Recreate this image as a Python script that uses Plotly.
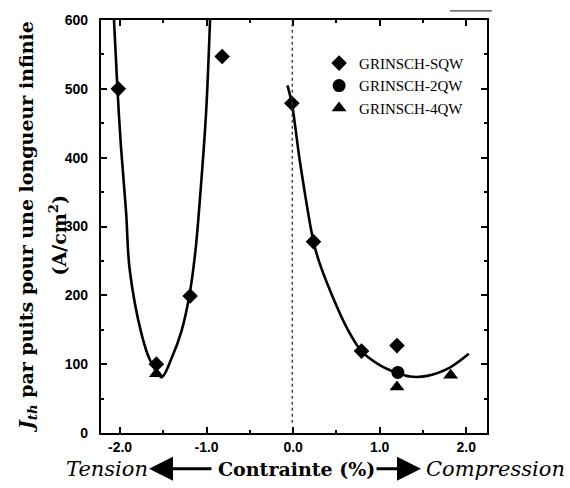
import plotly.graph_objects as go

# ---- data ----
sqw_x = [-2.02, -1.58, -1.19, -0.82, -0.015, 0.235, 0.79, 1.20]
sqw_y = [500, 100, 199, 547, 479, 278, 119, 127]
qw2_x = [1.21]
qw2_y = [88]
qw4_x = [-1.58, 1.20, 1.82]
qw4_y = [86, 67, 84]

fit_tension_x = [-2.07, -2.03, -1.99, -1.93, -1.89, -1.75, -1.65, -1.52, -1.40, -1.29, -1.20, -1.13, -1.08, -1.006, -0.96]
fit_tension_y = [600, 500, 417, 321, 239, 143, 105, 81, 110, 148, 199, 263, 335, 465, 600]
fit_comp_x = [-0.066, -0.015, 0.08, 0.235, 0.30, 0.43, 0.62, 0.79, 1.01, 1.21, 1.35, 1.55, 1.81, 2.03]
fit_comp_y = [505, 479, 393, 278, 249, 206, 153, 119, 98, 87, 82, 83, 95, 115]

x_ticks = [-2, -1, 0, 1, 2]
x_ticklabels = ["-2.0", "-1.0", "0.0", "1.0", "2.0"]
y_ticks = [0, 100, 200, 300, 400, 500, 600]

SERIF = "Liberation Serif"
SERIF_STYLED = "DejaVu Serif"
SANS = "Liberation Sans"

fig = go.Figure()

for fx, fy in [(fit_tension_x, fit_tension_y), (fit_comp_x, fit_comp_y)]:
    fig.add_trace(go.Scatter(x=fx, y=fy, mode="lines",
                             line=dict(color="black", width=2.6, shape="spline", smoothing=0.9),
                             showlegend=False, hoverinfo="skip"))

fig.add_trace(go.Scatter(x=sqw_x, y=sqw_y, mode="markers", name="GRINSCH-SQW",
                         marker=dict(symbol="diamond", size=12, color="black")))
fig.add_trace(go.Scatter(x=qw2_x, y=qw2_y, mode="markers", name="GRINSCH-2QW",
                         marker=dict(symbol="circle", size=13, color="black")))
fig.add_trace(go.Scatter(x=qw4_x, y=qw4_y, mode="markers", name="GRINSCH-4QW",
                         marker=dict(symbol="triangle-up", size=13, color="black")))

# dashed zero-strain reference line
fig.add_shape(type="line", xref="x", yref="y", x0=-0.01, x1=-0.01, y0=15, y1=600,
              line=dict(color="#333", width=1.3, dash="3px,3px"))
# small scan mark above frame
fig.add_shape(type="line", xref="paper", yref="paper", x0=0.904, x1=1.013, y0=1.022, y1=1.022,
              line=dict(color="#444", width=1.2))

axis_common = dict(showgrid=False, zeroline=False, showline=True, linecolor="black",
                   linewidth=2.2, mirror="ticks", ticks="inside", ticklen=6, tickwidth=1.5,
                   tickcolor="black",
                   tickfont=dict(family=SANS, size=14, color="black", weight="bold"))

fig.update_xaxes(range=[-2.22, 2.24], tickvals=x_ticks, ticktext=x_ticklabels,
                 minor=dict(dtick=0.5, ticklen=3, ticks="inside", tickcolor="black"),
                 **axis_common)
fig.update_yaxes(range=[0, 600], tickvals=y_ticks, ticklabelstandoff=8,
                 minor=dict(dtick=50, ticklen=3, ticks="inside", tickcolor="black"),
                 **axis_common)

# y axis title (two rotated lines)
fig.add_annotation(xref="paper", yref="paper", x=-0.19, y=0.5, textangle=-90,
                   text="<i>J</i><sub><i>th</i></sub> par puits pour une longueur infinie",
                   showarrow=False, xanchor="center", yanchor="middle",
                   font=dict(family=SERIF_STYLED, size=19, color="black", weight="bold"))
fig.add_annotation(xref="paper", yref="paper", x=-0.112, y=0.48, textangle=-90,
                   text="(A/cm<sup>2</sup>)",
                   showarrow=False, xanchor="center", yanchor="middle",
                   font=dict(family=SERIF_STYLED, size=19, color="black", weight="bold"))

# x axis title pieces
def px_x(p):
    return (p - 101) / 386.0

def px_y(p):
    return 1 - (p - 16) / 417.0

ty = px_y(469)
fig.add_annotation(xref="paper", yref="paper", x=px_x(64), y=ty, text="Tension",
                   showarrow=False, xanchor="left", yanchor="middle",
                   font=dict(family=SERIF_STYLED, size=21, color="black", style="italic"))
fig.add_annotation(xref="paper", yref="paper", x=px_x(216), y=ty, text="Contrainte (%)",
                   showarrow=False, xanchor="left", yanchor="middle",
                   font=dict(family=SERIF_STYLED, size=19, color="black", weight="bold"))
fig.add_annotation(xref="paper", yref="paper", x=px_x(424), y=ty, text="Compression",
                   showarrow=False, xanchor="left", yanchor="middle",
                   font=dict(family=SERIF_STYLED, size=21, color="black", style="italic"))
# arrows
fig.add_annotation(xref="paper", yref="paper", axref="pixel", ayref="pixel",
                   x=px_x(149), y=px_y(469), ax=64, ay=0, text="", showarrow=True,
                   arrowhead=2, arrowsize=1.6, arrowwidth=3, arrowcolor="black")
fig.add_annotation(xref="paper", yref="paper", axref="pixel", ayref="pixel",
                   x=px_x(421), y=px_y(469), ax=-46, ay=0, text="", showarrow=True,
                   arrowhead=2, arrowsize=1.6, arrowwidth=3, arrowcolor="black")

fig.update_layout(
    width=570, height=488,
    margin=dict(l=101, r=83, t=16, b=55),
    paper_bgcolor="white", plot_bgcolor="white",
    showlegend=True,
    legend=dict(x=0.565, y=0.935, xanchor="left", yanchor="top",
                bgcolor="rgba(0,0,0,0)", borderwidth=0, tracegroupgap=0,
                font=dict(family=SERIF, size=15, color="black")),
)

fig.write_html("out.html")
